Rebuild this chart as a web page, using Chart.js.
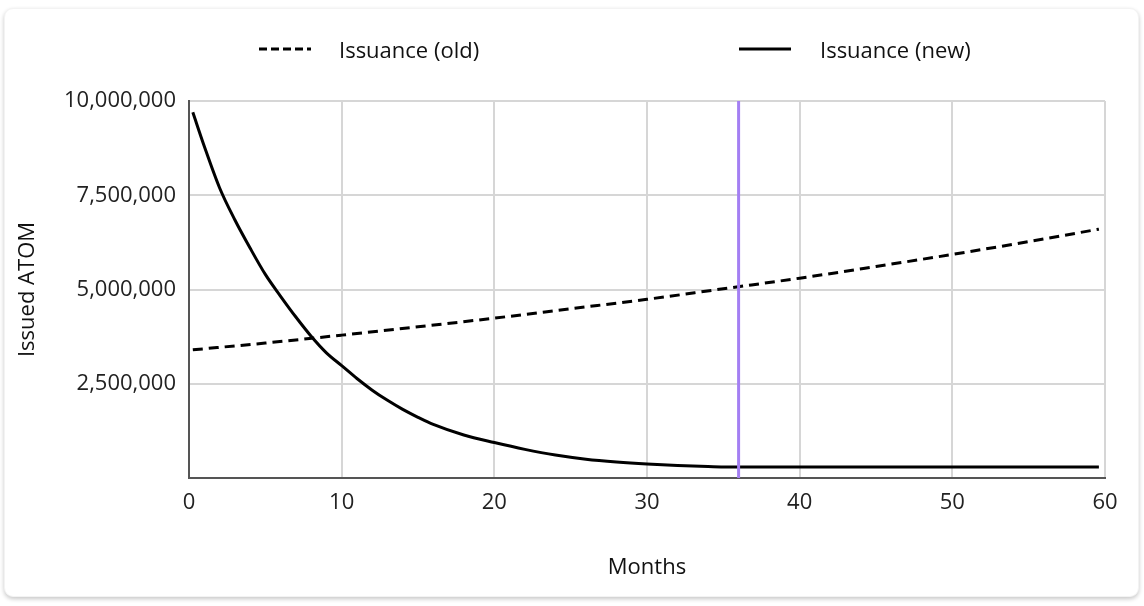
<!DOCTYPE html>
<html>
<head>
<meta charset="utf-8">
<script src="https://cdn.jsdelivr.net/npm/chart.js@4/dist/chart.umd.min.js"></script>
<style>
  html, body { margin: 0; padding: 0; background: #fff; }
  body { width: 1144px; height: 606px; position: relative; overflow: hidden; font-family: "Open Sans", Lato, sans-serif; }
  #card { position: absolute; left: 4px; top: 8px; width: 1135px; height: 589px; background: #fff;
          border-radius: 9px; border: 1px solid #f3f3f3; box-sizing: border-box;
          box-shadow: 0 2px 4px rgba(0,0,0,0.22); }
  #wrap { position: absolute; left: 0; top: 0; width: 1144px; height: 606px; }
  .leg { position: absolute; top: 34px; height: 30px; display: flex; align-items: center; font-size: 22px; color: #111; }
  .leg svg { margin-right: 28px; }
</style>
</head>
<body>
<div id="card"></div>
<div id="wrap"><canvas id="c" width="1144" height="606"></canvas></div>
<div class="leg" style="left:259px"><svg width="52" height="6"><line x1="0" y1="3" x2="52" y2="3" stroke="#000" stroke-width="3" stroke-dasharray="8 4"/></svg><span>Issuance (old)</span></div>
<div class="leg" style="left:739px"><svg width="52" height="6"><line x1="0" y1="3" x2="52" y2="3" stroke="#000" stroke-width="3"/></svg><span style="margin-left:1px">Issuance (new)</span></div>
<script>
// ---- data ----
const seriesNames = ["Issuance (old)", "Issuance (new)"];
const oldMonths = [0.25, 5, 10, 15, 20, 25, 30, 35, 40, 45, 50, 55, 59.6];
const oldValues = [3400000, 3580000, 3790000, 4010000, 4240000, 4490000, 4740000, 5020000, 5300000, 5610000, 5930000, 6270000, 6600000];
const newMonths = [0.25, 1, 2, 3, 4, 5, 6, 7, 8, 9, 10, 11, 12, 13, 14, 15, 16, 18, 20, 22, 24, 26, 28, 30, 32, 34, 36, 40, 45, 50, 55, 59.6];
const newValues = [9700000, 8800000, 7700000, 6850000, 6100000, 5400000, 4820000, 4270000, 3760000, 3320000, 2980000, 2640000, 2330000, 2060000, 1820000, 1610000, 1420000, 1140000, 940000, 760000, 610000, 500000, 425000, 370000, 330000, 305000, 290000, 290000, 290000, 290000, 290000, 290000];
const markerMonth = 36;
const xTicks = [0, 10, 20, 30, 40, 50, 60];
const yTicks = [0, 2500000, 5000000, 7500000, 10000000];
const xTitle = "Months";
const yTitle = "Issued ATOM";

const toXY = (xs, ys) => xs.map((x, i) => ({ x: x, y: ys[i] }));
const FONT = "'Open Sans', Lato, sans-serif";

new Chart(document.getElementById('c'), {
  type: 'line',
  data: {
    datasets: [
      { label: 'marker', data: [{ x: markerMonth, y: yTicks[0] }, { x: markerMonth, y: yTicks[yTicks.length - 1] }],
        borderColor: '#a47ff3', borderWidth: 3, pointRadius: 0, order: 0 },
      { label: seriesNames[1], data: toXY(newMonths, newValues), borderColor: '#000', borderWidth: 3,
        pointRadius: 0, cubicInterpolationMode: 'monotone', order: 1 },
      { label: seriesNames[0], data: toXY(oldMonths, oldValues), borderColor: '#000', borderWidth: 3,
        borderDash: [10, 6], pointRadius: 0, cubicInterpolationMode: 'monotone', order: 2 }
    ]
  },
  options: {
    responsive: false,
    animation: false,
    layout: { padding: { top: 101, right: 39, bottom: 20, left: 0 } },
    plugins: { legend: { display: false }, tooltip: { enabled: false } },
    scales: {
      x: {
        type: 'linear', min: xTicks[0], max: xTicks[xTicks.length - 1],
        afterBuildTicks: s => { s.ticks = xTicks.map(v => ({ value: v })); },
        afterFit: s => { s.height = 108; },
        grid: { color: '#d6d6d6', lineWidth: 2, drawTicks: false },
        border: { color: '#555', width: 2 },
        ticks: { padding: 12, color: '#222', font: { family: FONT, size: 22 } },
        title: { display: true, text: xTitle, color: '#111', padding: { top: 0, bottom: 5 }, font: { family: FONT, size: 22 } }
      },
      y: {
        min: yTicks[0], max: yTicks[yTicks.length - 1],
        afterBuildTicks: s => { s.ticks = yTicks.map(v => ({ value: v })); },
        afterFit: s => { s.width = 189; },
        grid: { color: '#d6d6d6', lineWidth: 2, drawTicks: false },
        border: { color: '#555', width: 2 },
        ticks: { padding: 13, color: '#222', font: { family: FONT, size: 22 },
                 callback: v => v === 0 ? '' : v.toLocaleString('en-US') },
        title: { display: true, text: yTitle, color: '#111', padding: { top: 15, bottom: 0 }, font: { family: FONT, size: 22 } }
      }
    }
  }
});
</script>
</body>
</html>
